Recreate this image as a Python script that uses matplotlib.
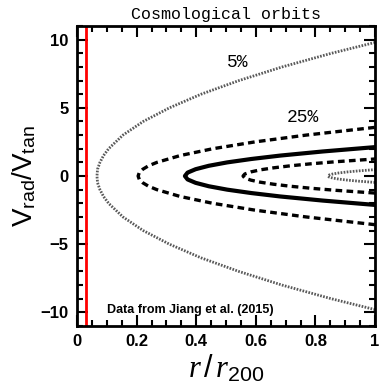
import numpy as np
import matplotlib
matplotlib.use("Agg")
import matplotlib.pyplot as plt
from matplotlib.ticker import MultipleLocator

plt.rcParams['mathtext.fontset'] = 'custom'
plt.rcParams['mathtext.rm'] = 'Liberation Sans'
plt.rcParams['mathtext.it'] = 'Liberation Serif:italic'

# upper branches of the orbit curves (v_rad/v_tan, r/r200), mirrored below
v_5 = [0, 0.5, 1, 1.5, 2, 3, 4, 5, 6, 7, 8, 9, 9.8]
r_5 = [0.067, 0.069, 0.077, 0.089, 0.106, 0.154, 0.222, 0.310, 0.416, 0.543, 0.688, 0.853, 1.0]

v_25 = [0, 0.25, 0.5, 0.75, 1, 1.5, 2, 2.5, 3, 3.57]
r_25 = [0.205, 0.209, 0.221, 0.240, 0.268, 0.346, 0.455, 0.596, 0.768, 1.0]

v_mid = [0, 0.25, 0.5, 0.75, 1, 1.25, 1.5, 1.8, 2.12]
r_mid = [0.362, 0.371, 0.398, 0.442, 0.504, 0.585, 0.682, 0.824, 1.0]

v_in = [0, 0.15, 0.3, 0.45, 0.6, 0.75, 0.9, 1.05, 1.25]
r_in = [0.557, 0.563, 0.583, 0.614, 0.659, 0.716, 0.786, 0.869, 1.0]

v_core = [0, 0.075, 0.15, 0.225, 0.3, 0.38, 0.47]
r_core = [0.842, 0.846, 0.858, 0.878, 0.907, 0.946, 1.0]

r_red = 0.03


def both(r, v):
    r = np.asarray(r)
    v = np.asarray(v)
    return np.concatenate([r[::-1], r[1:]]), np.concatenate([-v[::-1], v[1:]])


fig = plt.figure(figsize=(3.8, 3.89), dpi=100)
ax = fig.add_axes([0.2026, 0.162, 0.7845, 0.771])

x, y = both(r_5, v_5)
ax.plot(x, y, color='0.35', lw=2.0, ls=(0, (0.6, 0.5)))
x, y = both(r_25, v_25)
ax.plot(x, y, color='k', lw=2.4, ls=(0, (2.0, 1.3)))
x, y = both(r_mid, v_mid)
ax.plot(x, y, color='k', lw=3.0, ls='-')
x, y = both(r_in, v_in)
ax.plot(x, y, color='k', lw=2.4, ls=(0, (2.0, 1.3)))
x, y = both(r_core, v_core)
ax.plot(x, y, color='0.35', lw=2.0, ls=(0, (0.6, 0.5)))

ax.axvline(r_red, color='red', lw=2.0)

ax.set_xlim(0, 1)
ax.set_ylim(-11, 11)
ax.xaxis.set_minor_locator(MultipleLocator(0.05))
ax.yaxis.set_minor_locator(MultipleLocator(1))
ax.tick_params(which='both', direction='in', top=True, right=True, width=1.5)
ax.tick_params(which='major', length=8, labelsize=12, pad=6)
ax.tick_params(which='minor', length=4)
ax.set_xticks([0, 0.2, 0.4, 0.6, 0.8, 1.0])
ax.set_xticklabels(['0', '0.2', '0.4', '0.6', '0.8', '1'])
ax.set_yticks([-10, -5, 0, 5, 10])
ax.set_yticklabels(['\u221210', '\u22125', '0', '5', '10'])
for lab in ax.get_xticklabels() + ax.get_yticklabels():
    lab.set_family('Liberation Sans')
    lab.set_fontweight('bold')
for s in ax.spines.values():
    s.set_linewidth(2)

ax.set_title('Cosmological orbits', family='Liberation Mono', fontsize=12, pad=5)
ax.text(0.54, 8.3, '5%', family='Liberation Mono', fontsize=13, ha='center', va='center')
ax.text(0.758, 4.3, '25%', family='Liberation Mono', fontsize=13, ha='center', va='center')
ax.text(0.1, -9.85, 'Data from Jiang et al. (2015)', family='Liberation Sans',
        fontweight='bold', fontsize=9, ha='left', va='center')

ax.set_xlabel(r'$r\,/\,r_{\mathrm{200}}$', fontsize=22, labelpad=2)
ax.set_ylabel(r'$\mathrm{V}_{\mathrm{rad}}/\mathrm{V}_{\mathrm{tan}}$', fontsize=20, labelpad=2)

fig.savefig('out.png', dpi=100)
